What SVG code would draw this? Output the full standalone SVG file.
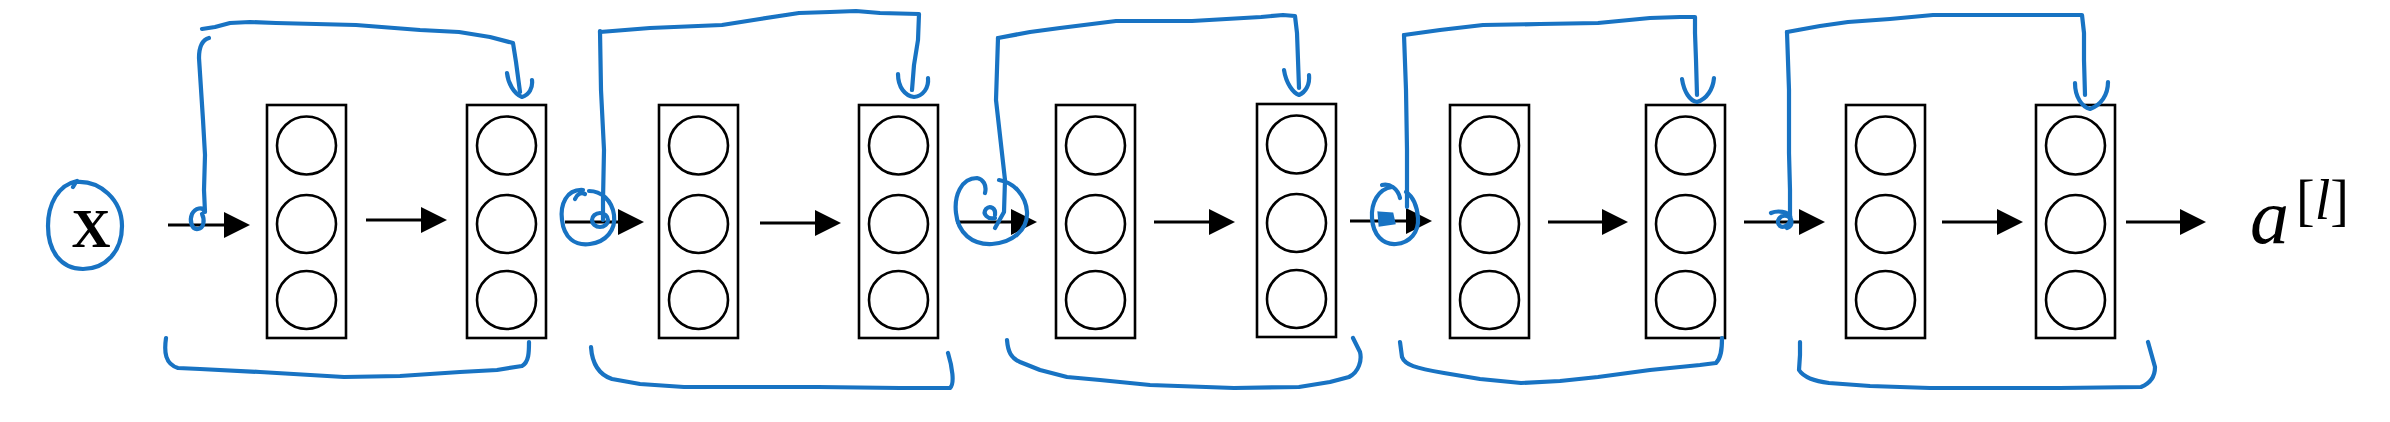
<svg xmlns="http://www.w3.org/2000/svg" width="2390" height="422" viewBox="0 0 2390 422">
<style>
.box{fill:#fff;stroke:#000;stroke-width:2.6}
.neu{fill:none;stroke:#000;stroke-width:2.6}
.arr{fill:none;stroke:#000;stroke-width:3.2}
.ink{fill:none;stroke:#1873c3;stroke-width:4.2;stroke-linecap:round;stroke-linejoin:round}
.blob{fill:#1873c3;stroke:#1873c3;stroke-width:3}
.lbl{font-family:"Liberation Serif","Times New Roman",serif;fill:#000}
</style>
<defs>
<marker id="ah" markerUnits="userSpaceOnUse" markerWidth="28" markerHeight="28" refX="1" refY="13" orient="auto">
<path d="M0,0 L26,13 L0,26 Z" fill="#000"/>
</marker>
<g id="layer">
<rect class="box" x="0" y="0" width="79" height="233"/>
<ellipse class="neu" cx="39.5" cy="40.5" rx="29.5" ry="29"/>
<ellipse class="neu" cx="39.5" cy="119" rx="29.5" ry="29"/>
<ellipse class="neu" cx="39.5" cy="195" rx="29.5" ry="29"/>
</g>
</defs>

<g id="input-x">
<path class="ink" d="M73,187 L76,182 C100,180 122,200 122,226 C122,252 105,269 83,269 C60,269 48,250 48,226 C48,204 58,185 77,181"/>
<text class="lbl" x="91" y="247" font-size="54" font-weight="bold" text-anchor="middle">X</text>
</g>

<g id="layer1"><use href="#layer" x="267" y="105"/></g>
<g id="layer2"><use href="#layer" x="467" y="105"/></g>
<g id="layer3"><use href="#layer" x="659" y="105"/></g>
<g id="layer4"><use href="#layer" x="859" y="105"/></g>
<g id="layer5"><use href="#layer" x="1056" y="105"/></g>
<g id="layer6"><use href="#layer" x="1257" y="104"/></g>
<g id="layer7"><use href="#layer" x="1450" y="105"/></g>
<g id="layer8"><use href="#layer" x="1646" y="105"/></g>
<g id="layer9"><use href="#layer" x="1846" y="105"/></g>
<g id="layer10"><use href="#layer" x="2036" y="105"/></g>

<g id="output">
<text class="lbl" x="2250" y="243" font-size="78" font-style="italic">a</text>
<text class="lbl" x="2296" y="219" font-size="56"><tspan>[</tspan><tspan font-style="italic">l</tspan><tspan>]</tspan></text>
</g>

<g id="connectors">
<g id="arrows" marker-end="url(#ah)">
<path class="arr" d="M168,225 H225"/>
<path class="arr" d="M366,220 H422"/>
<path class="arr" d="M565,222 H619"/>
<path class="arr" d="M760,223 H816"/>
<path class="arr" d="M956,222 H1012"/>
<path class="arr" d="M1154,222 H1210"/>
<path class="arr" d="M1350,221 H1407"/>
<path class="arr" d="M1548,222 H1603"/>
<path class="arr" d="M1744,222 H1800"/>
<path class="arr" d="M1942,222 H1998"/>
<path class="arr" d="M2126,222 H2181"/>
</g>

<g id="skip1">
<path class="ink" d="M209,38 C202,40 199,46 199,58 L203,120 L205,155 L204,190 L205,212 C203,206 195,208 192,214 C189,221 192,230 198,229 C204,228 205,220 202,214"/>
<path class="ink" d="M202,29 L215,27 L230,23 L250,22 L276,23 L356,25 L420,30 L459,32 L490,37 L513,43 L516,62 L520,92"/>
<path class="ink" d="M507,73 C508,83 514,94 522,97 C529,95 533,88 532,80"/>
<path class="ink" d="M166,338 C164,352 165,364 178,368 L200,369 L260,372 L344,377 L400,376 L460,372 L497,370 L522,366 C529,362 529,352 529,342"/>
</g>

<g id="skip2">
<path class="ink" d="M575,199 C577,194 581,192 585,194"/>
<path class="ink" d="M583,190 C566,189 560,205 562,220 C564,238 575,246 590,244 C606,242 616,230 614,215 C612,200 601,191 589,191"/>
<ellipse class="ink" cx="600" cy="220" rx="8" ry="7"/>
<path class="ink" d="M600,31 L601,90 L604,150 L603,200 L603,220"/>
<path class="ink" d="M600,32 L650,28 L722,25 L760,19 L799,13 L830,12 L856,11 L880,13 L919,14 L918,40 L914,65 L912,90"/>
<path class="ink" d="M898,74 C898,87 905,96 914,97 C923,96 929,88 928,78"/>
<path class="ink" d="M591,347 C592,362 597,374 612,379 L640,384 L684,387 L818,387 L900,388 L950,388 C955,384 952,366 948,353"/>
</g>

<g id="skip3">
<path class="ink" d="M985,193 C987,185 983,179 977,178 C961,178 954,196 956,213 C958,233 972,245 992,244 C1012,243 1028,230 1027,212 C1026,195 1013,182 999,180"/>
<path class="ink" d="M995,215 C996,208 990,205 986,209 C982,214 988,220 995,218"/>
<path class="ink" d="M998,38 L996,100 L1005,180 L1004,212 L995,228"/>
<path class="ink" d="M998,38 L1030,32 L1060,28 L1116,21 L1192,21 L1261,17 L1283,15 L1295,16 L1297,33 L1298,60 L1299,88"/>
<path class="ink" d="M1284,70 C1286,83 1293,93 1299,95 C1306,92 1310,84 1309,75"/>
<path class="ink" d="M1007,340 C1008,352 1011,358 1020,362 L1040,370 L1067,377 L1100,380 L1150,385 L1234,388 L1299,387 L1330,382 L1349,377 C1359,372 1362,360 1360,352 L1353,338"/>
</g>

<g id="skip4">
<path class="ink" d="M1382,185 C1390,183 1398,189 1400,198"/>
<path class="ink" d="M1392,187 C1378,189 1371,203 1372,218 C1373,235 1383,245 1396,244 C1410,243 1419,232 1418,218 C1417,205 1412,196 1406,192"/>
<path class="blob" d="M1379,213 L1392,214 L1394,223 L1380,225 Z"/>
<path class="ink" d="M1404,35 L1406,90 L1407,150 L1407,207"/>
<path class="ink" d="M1404,35 L1440,30 L1483,25 L1540,24 L1598,23 L1650,18 L1680,17 L1695,17 L1695,33 L1696,60 L1697,95"/>
<path class="ink" d="M1682,79 C1684,92 1690,101 1697,102 C1707,99 1713,89 1714,78"/>
<path class="ink" d="M1400,342 L1402,357 C1405,365 1415,368 1444,373 L1480,379 L1521,383 L1560,381 L1598,377 L1650,370 L1700,365 L1716,363 C1721,358 1722,350 1722,338"/>
</g>

<g id="skip5">
<path class="ink" d="M1771,213 C1778,210 1788,212 1790,216 C1792,222 1785,229 1780,226 C1775,222 1780,214 1787,216 C1793,218 1793,226 1787,228"/>
<path class="ink" d="M1787,32 L1789,90 L1789,153 L1790,190 L1790,220"/>
<path class="ink" d="M1787,32 L1820,26 L1848,22 L1890,19 L1933,15 L2028,15 L2060,15 L2082,15 L2084,33 L2084,60 L2085,95"/>
<path class="ink" d="M2075,83 C2075,97 2082,107 2090,109 C2101,105 2108,95 2108,82"/>
<path class="ink" d="M1800,342 L1800,355 L1799,370 C1804,378 1815,381 1829,383 L1870,386 L1930,388 L1980,388 L2060,388 L2141,387 C2151,383 2155,375 2155,367 L2148,342"/>
</g>
</g>
</svg>
